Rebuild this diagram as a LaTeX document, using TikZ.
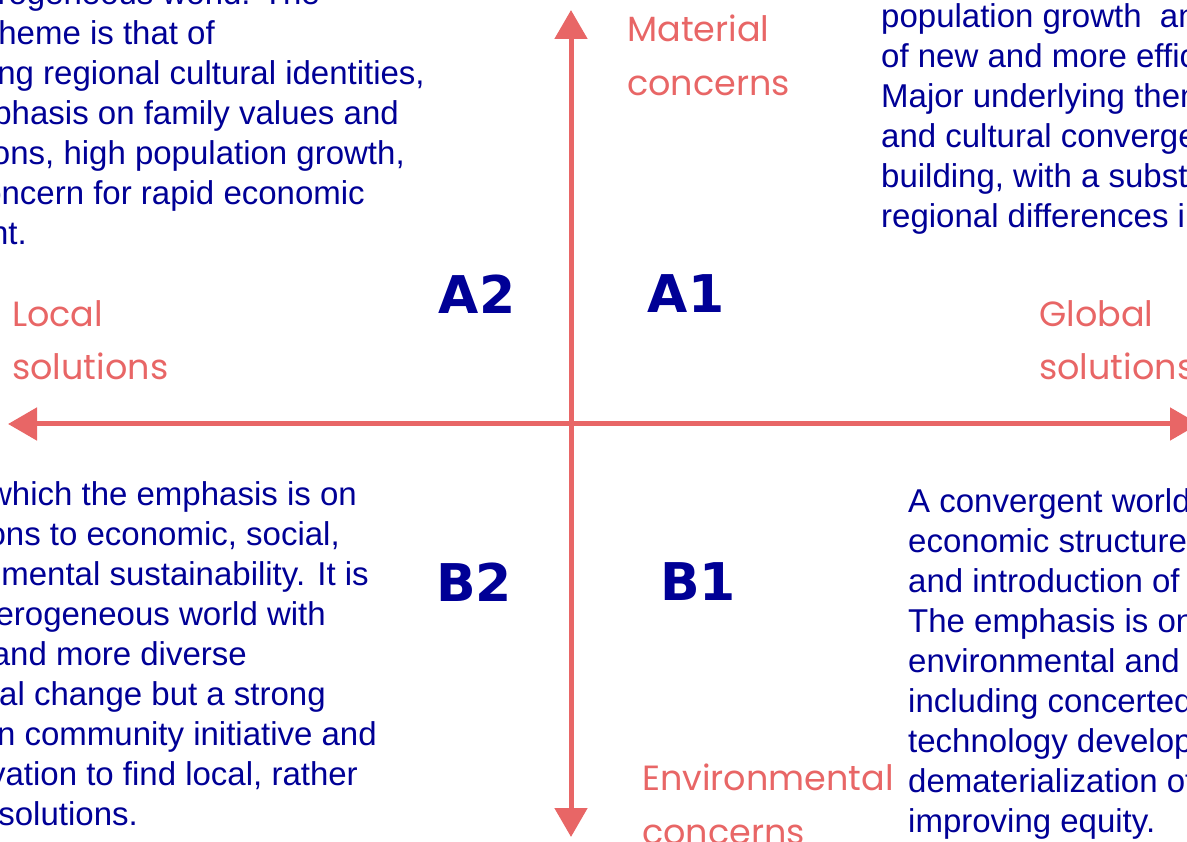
\documentclass[tikz,border=0pt]{standalone}
\usepackage{fontspec}
\setmainfont{Liberation Sans}
\newfontfamily\labfont{Poppins}
\newfontfamily\quadfont{DejaVu Sans}
\usetikzlibrary{arrows.meta}
\definecolor{salmon}{RGB}{232,102,102}
\definecolor{navy}{RGB}{0,0,150}
\begin{document}
\begin{tikzpicture}[x=1pt,y=-1pt,
  axis/.style={draw=salmon,line width=5pt,{Triangle[length=29pt,width=32pt]}-{Triangle[length=29pt,width=32pt]}},
  body/.style={inner sep=0pt,text=navy,font=\fontsize{33}{40}\selectfont},
  lline/.style={body,anchor=base east},
  rline/.style={body,anchor=base west},
  axlab/.style={inner sep=0pt,anchor=base west,text=salmon,font=\labfont\fontsize{35}{40}\selectfont},
  quad/.style={inner sep=0pt,text=navy,font=\quadfont\bfseries\fontsize{52}{60}\selectfont}]
\useasboundingbox (0,0) rectangle (1187,842);
\clip (0,0) rectangle (1187,842);
% axes
\coordinate (top) at (571,10);
\coordinate (bottom) at (571,837);
\coordinate (left) at (8,424);
\coordinate (right) at (1199,424);
\draw[axis] (bottom) -- (top);
\draw[axis] (left) -- (right);
% axis labels
\node[axlab] (mat1) at (627,42) {Material};
\node[axlab] (mat2) at (627,96) {concerns};
\node[axlab] (loc1) at (12,327) {Local};
\node[axlab] (loc2) at (12,380) {solutions};
\node[axlab] (glo1) at (1039,327) {Global};
\node[axlab] (glo2) at (1039,380) {solutions};
\node[axlab] (env1) at (642,790) {Environmental};
\node[axlab] (env2) at (642,844) {concerns};
% quadrant labels
\node[quad] (A2) at (477,294) {A2};
\node[quad] (A1) at (686,294) {A1};
\node[quad] (B2) at (474,582) {B2};
\node[quad] (B1) at (698,582) {B1};
% A2 text
\node[lline] (a2l0) at (320,5) {heterogeneous world. The};
\node[lline] (a2l1) at (215,45) {theme is that of};
\node[lline] (a2l2) at (425,85) {strengthening regional cultural identities,};
\node[lline] (a2l3) at (399,125) {emphasis on family values and};
\node[lline] (a2l4) at (405,165) {traditions, high population growth,};
\node[lline] (a2l5) at (365,205) {concern for rapid economic};
\node[lline] (a2l6) at (27,245) {development.};
% A1 text
\node[rline] (a1l1) at (881,28) {population growth\ \ and};
\node[rline] (a1l2) at (881,68) {of new and more efficient};
\node[rline] (a1l3) at (881,108) {Major underlying themes};
\node[rline] (a1l4) at (881,148) {and cultural convergence};
\node[rline] (a1l5) at (881,188) {building, with a substantial};
\node[rline] (a1l6) at (881,228) {regional differences in};
% B2 text
\node[lline] (b2l1) at (357,505) {which the emphasis is on};
\node[lline] (b2l2) at (340,545) {solutions to economic, social,};
\node[lline] (b2l3) at (369,585) {environmental sustainability. It is};
\node[lline] (b2l4) at (326,625) {heterogeneous world with};
\node[lline] (b2l5) at (247,665) {and more diverse};
\node[lline] (b2l6) at (326,705) {technological change but a strong};
\node[lline] (b2l7) at (377,745) {emphasis on community initiative and};
\node[lline] (b2l8) at (358,785) {innovation to find local, rather};
\node[lline] (b2l9) at (138,825) {solutions.};
% B1 text
\node[rline] (b1l1) at (908,512) {A convergent world};
\node[rline] (b1l2) at (908,552) {economic structures};
\node[rline] (b1l3) at (908,592) {and introduction of};
\node[rline] (b1l4) at (908,632) {The emphasis is on};
\node[rline] (b1l5) at (908,672) {environmental and};
\node[rline] (b1l6) at (908,712) {including concerted};
\node[rline] (b1l7) at (908,752) {technology development};
\node[rline] (b1l8) at (908,792) {dematerialization of};
\node[rline] (b1l9) at (908,832) {improving equity.};
\end{tikzpicture}
\end{document}
